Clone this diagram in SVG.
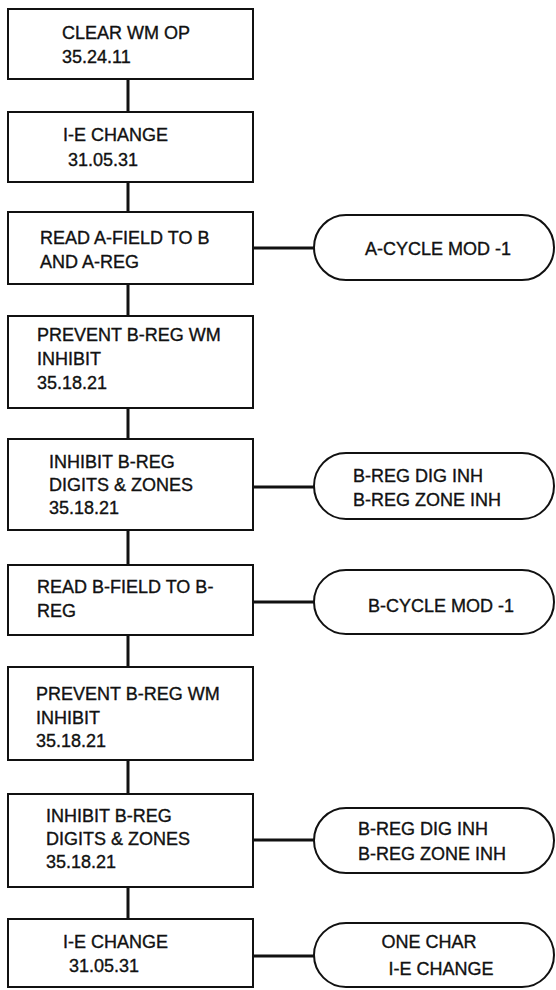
<svg xmlns="http://www.w3.org/2000/svg" width="556" height="990" viewBox="0 0 556 990">
  <style>
    .box { fill: #fff; stroke: #111; stroke-width: 2; }
    .term { fill: #fff; stroke: #111; stroke-width: 2; }
    .wire { stroke: #111; stroke-width: 3; fill: none; }
    text { font-family: "Liberation Sans", Arial, sans-serif; font-size: 18px; fill: #111; stroke: #111; stroke-width: 0.35; }
  </style>
  <rect width="556" height="990" fill="#fff"/>

  <!-- flow lines -->
  <g id="connectors">
    <line class="wire" x1="128" y1="79" x2="128" y2="112"/>
    <line class="wire" x1="128" y1="182" x2="128" y2="212"/>
    <line class="wire" x1="128" y1="284" x2="128" y2="316"/>
    <line class="wire" x1="128" y1="408" x2="128" y2="439"/>
    <line class="wire" x1="128" y1="530" x2="128" y2="565"/>
    <line class="wire" x1="128" y1="635" x2="128" y2="667"/>
    <line class="wire" x1="128" y1="760" x2="128" y2="794"/>
    <line class="wire" x1="128" y1="887" x2="128" y2="919"/>
    <line class="wire" x1="253" y1="248" x2="314" y2="248"/>
    <line class="wire" x1="253" y1="487" x2="314" y2="487"/>
    <line class="wire" x1="253" y1="602" x2="314" y2="602"/>
    <line class="wire" x1="253" y1="840" x2="314" y2="840"/>
    <line class="wire" x1="253" y1="956" x2="314" y2="956"/>
  </g>

  <!-- process boxes -->
  <g id="clear-wm-op">
    <rect class="box" x="8" y="9" width="245" height="70"/>
    <text x="62" y="39">CLEAR WM OP</text>
    <text x="62" y="63">35.24.11</text>
  </g>
  <g id="ie-change-1">
    <rect class="box" x="8" y="112" width="245" height="70"/>
    <text x="63" y="141">I-E CHANGE</text>
    <text x="68" y="166">31.05.31</text>
  </g>
  <g id="read-a-field">
    <rect class="box" x="8" y="212" width="245" height="72"/>
    <text x="40" y="244">READ A-FIELD TO B</text>
    <text x="40" y="268">AND A-REG</text>
  </g>
  <g id="prevent-wm-1">
    <rect class="box" x="8" y="316" width="245" height="92"/>
    <text x="37" y="341">PREVENT B-REG WM</text>
    <text x="37" y="365">INHIBIT</text>
    <text x="37" y="389">35.18.21</text>
  </g>
  <g id="inhibit-b-reg-1">
    <rect class="box" x="8" y="439" width="245" height="91"/>
    <text x="49" y="468">INHIBIT B-REG</text>
    <text x="49" y="491">DIGITS &amp; ZONES</text>
    <text x="49" y="514">35.18.21</text>
  </g>
  <g id="read-b-field">
    <rect class="box" x="8" y="565" width="245" height="70"/>
    <text x="37" y="593">READ B-FIELD TO B-</text>
    <text x="37" y="617">REG</text>
  </g>
  <g id="prevent-wm-2">
    <rect class="box" x="8" y="667" width="245" height="93"/>
    <text x="36" y="700">PREVENT B-REG WM</text>
    <text x="36" y="724">INHIBIT</text>
    <text x="36" y="747">35.18.21</text>
  </g>
  <g id="inhibit-b-reg-2">
    <rect class="box" x="8" y="794" width="245" height="93"/>
    <text x="46" y="822">INHIBIT B-REG</text>
    <text x="46" y="845">DIGITS &amp; ZONES</text>
    <text x="46" y="868">35.18.21</text>
  </g>
  <g id="ie-change-2">
    <rect class="box" x="8" y="919" width="245" height="68"/>
    <text x="63" y="948">I-E CHANGE</text>
    <text x="69" y="972">31.05.31</text>
  </g>

  <!-- terminal notes -->
  <g id="a-cycle-mod">
    <rect class="term" x="314" y="215" width="240" height="65" rx="32" ry="32.5"/>
    <text x="438" y="255" text-anchor="middle">A-CYCLE MOD -1</text>
  </g>
  <g id="b-reg-inh-1">
    <rect class="term" x="314" y="453" width="240" height="66" rx="32" ry="33"/>
    <text x="353" y="482">B-REG DIG INH</text>
    <text x="353" y="506">B-REG ZONE INH</text>
  </g>
  <g id="b-cycle-mod">
    <rect class="term" x="314" y="570" width="240" height="64" rx="32" ry="32"/>
    <text x="441" y="612" text-anchor="middle">B-CYCLE MOD -1</text>
  </g>
  <g id="b-reg-inh-2">
    <rect class="term" x="314" y="808" width="240" height="65" rx="32" ry="32.5"/>
    <text x="358" y="835">B-REG DIG INH</text>
    <text x="358" y="860">B-REG ZONE INH</text>
  </g>
  <g id="one-char-ie">
    <rect class="term" x="314" y="923" width="240" height="64" rx="32" ry="32"/>
    <text x="429" y="948" text-anchor="middle">ONE CHAR</text>
    <text x="441" y="975" text-anchor="middle">I-E CHANGE</text>
  </g>
</svg>
